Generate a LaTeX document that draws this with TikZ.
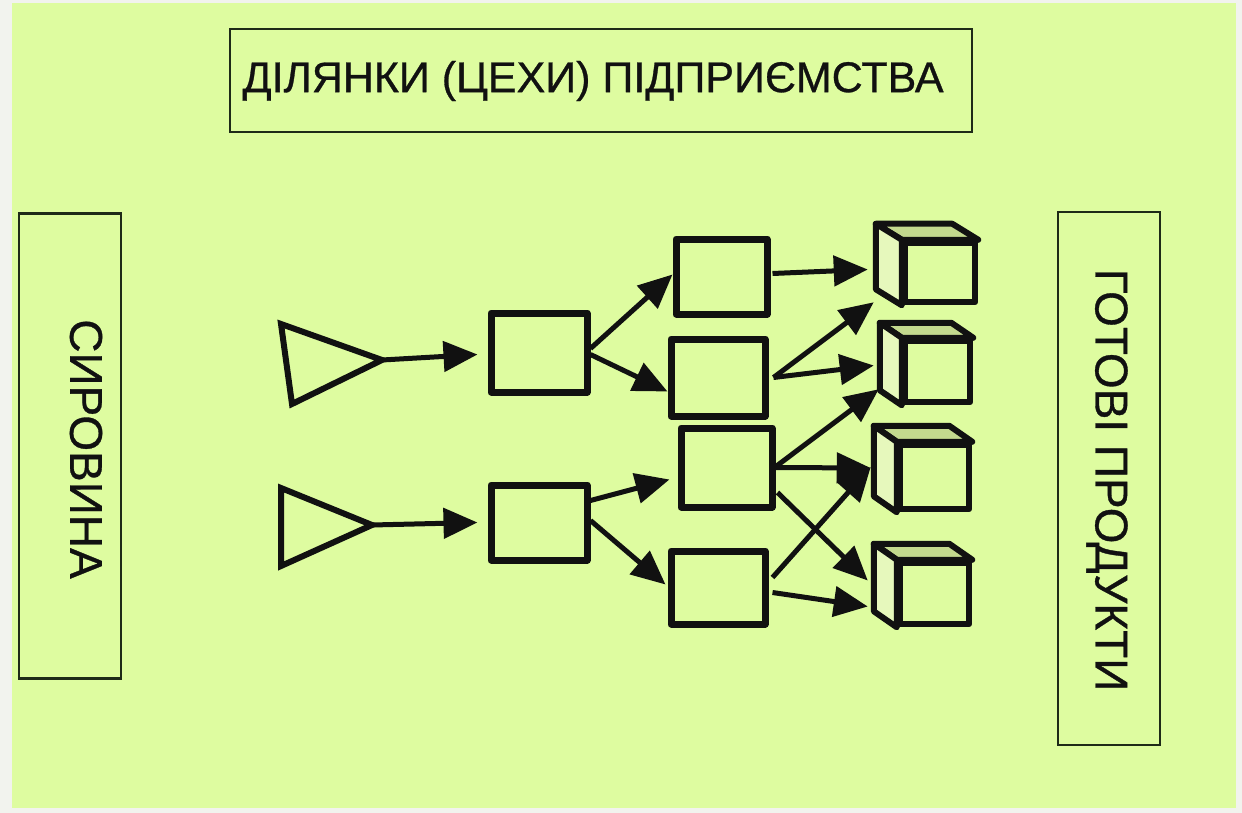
\documentclass[tikz,border=0pt]{standalone}
\usepackage{fontspec}
\setmainfont{Liberation Sans}
\newfontface\heavysans{Liberation Sans}[FakeBold=0.7]
\usetikzlibrary{arrows.meta,calc}
\definecolor{bgout}{HTML}{F2F3EE}
\definecolor{bggreen}{HTML}{DEFCA0}
\definecolor{cubetop}{HTML}{C3D98E}
\definecolor{cubeside}{HTML}{E6F8BC}
\definecolor{ink}{HTML}{111111}
\definecolor{frameink}{HTML}{1E2A18}
\tikzset{
  labelbox/.style={draw=frameink, line width=2.4pt, inner sep=0pt},
  bigtext/.style={text=ink, inner sep=0pt},
  procbox/.style={draw=ink, line width=7pt, inner sep=0pt, line join=round},
  cubefront/.style={draw=ink, line width=6.5pt, inner sep=0pt, line join=round},
  cubeface/.style={draw=ink, line width=6pt, line join=round},
  flow/.style={draw=ink, line width=5pt, -{Triangle[length=34pt,width=30pt]}},
  tri/.style={draw=ink, line width=6pt, line join=miter}
}
\begin{document}
\begin{tikzpicture}[x=1pt,y=-1pt]
  \fill[bgout] (0,0) rectangle (1242,813);
  \fill[bggreen] (12,3) rectangle (1236,808);
  \useasboundingbox (0,0) rectangle (1242,813);

  % label boxes
  \node[labelbox, minimum width=742pt, minimum height=103pt] (titlebox) at (601,80.5) {};
  \node[bigtext, font=\heavysans\fontsize{43}{50}\selectfont] (title) at (593,81) {ДІЛЯНКИ (ЦЕХИ) ПІДПРИЄМСТВА};
  \node[labelbox, minimum width=102pt, minimum height=465pt] (leftbox) at (70,446) {};
  \node[bigtext, font=\heavysans\fontsize{46}{50}\selectfont, rotate=-90] (lefttext) at (86,449) {СИРОВИНА};
  \node[labelbox, minimum width=102pt, minimum height=533pt] (rightbox) at (1109,478.5) {};
  \node[bigtext, font=\heavysans\fontsize{46}{50}\selectfont, rotate=-90] (righttext) at (1107,480) {ГОТОВІ ПРОДУКТИ};

  % triangles (raw material)
  \coordinate (t1tip) at (382,360);
  \coordinate (t2tip) at (372,525);
  \draw[tri] (281,324) -- (292,404) -- (t1tip) -- cycle;
  \draw[tri] (281,488) -- (281,566) -- (t2tip) -- cycle;

  % process boxes
  \node[procbox, minimum width=96pt, minimum height=79pt] (A1) at (539,352.5) {};
  \node[procbox, minimum width=96pt, minimum height=75pt] (A2) at (539,522.5) {};
  \node[procbox, minimum width=91pt, minimum height=75pt] (B1) at (721.5,276.5) {};
  \node[procbox, minimum width=94pt, minimum height=77pt] (B2) at (718,377.5) {};
  \node[procbox, minimum width=91pt, minimum height=79pt] (B3) at (726.5,467.5) {};
  \node[procbox, minimum width=94pt, minimum height=73pt] (B4) at (718,587.5) {};

  % cubes (finished products)
  \node[cubefront, minimum width=70pt, minimum height=59pt] (C1) at (940,272.5) {};
  \node[cubefront, minimum width=65pt, minimum height=61pt] (C2) at (937.5,371.5) {};
  \node[cubefront, minimum width=69pt, minimum height=64pt] (C3) at (934.5,477) {};
  \node[cubefront, minimum width=69pt, minimum height=61pt] (C4) at (934.5,593.5) {};
  \foreach \c/\dx/\dy in {C1/26/16, C2/22/15, C3/23/16, C4/23/16}{
    \filldraw[cubeface, fill=cubetop] (\c.north west) -- ++(-\dx,-\dy)
      -- ($(\c.north east)+(-\dx,-\dy)$) -- (\c.north east) -- cycle;
    \filldraw[cubeface, fill=cubeside] (\c.north west) -- ++(-\dx,-\dy)
      -- ($(\c.south west)+(-\dx,-\dy)$) -- (\c.south west) -- cycle;
  }

  % connectors
  \draw[flow] (t1tip) -- ($(A1.west)+(-10,2)$);
  \draw[flow] (t2tip) -- ($(A2.west)+(-10,0)$);
  \draw[flow] ($(A1.east)+(0,-4)$) -- ($(B1.west)+(0,-2)$);
  \draw[flow] ($(A1.east)+(0,2)$) -- ($(B2.west)+(0,14)$);
  \draw[flow] ($(A2.east)+(0,-22)$) -- ($(B3.west)+(-8,12)$);
  \draw[flow] ($(A2.east)+(0,-2)$) -- ($(B4.west)+(-2,-3)$);
  \draw[flow] ($(B1.east)+(2,-3)$) -- ($(C1.west)+(-34,-3)$);
  \draw[flow] ($(B2.east)+(5,0)$) -- ($(C1.south west)+(-28,-3)$);
  \draw[flow] ($(B2.east)+(5,0)$) -- ($(C2.west)+(-28,-6)$);
  \draw[flow] ($(B3.east)+(-1,0)$) -- ($(C2.south west)+(-23,-16)$);
  \draw[flow] ($(B3.east)+(-1,0)$) -- ($(C3.west)+(-26,-9)$);
  \draw[flow] ($(B3.east)+(2,25)$) -- ($(C4.west)+(-29,-13)$);
  \draw[flow] ($(B4.east)+(4,-10)$) -- ($(C3.west)+(-26,-10)$);
  \draw[flow] ($(B4.east)+(4,5)$) -- ($(C4.west)+(-29,13)$);
\end{tikzpicture}
\end{document}
